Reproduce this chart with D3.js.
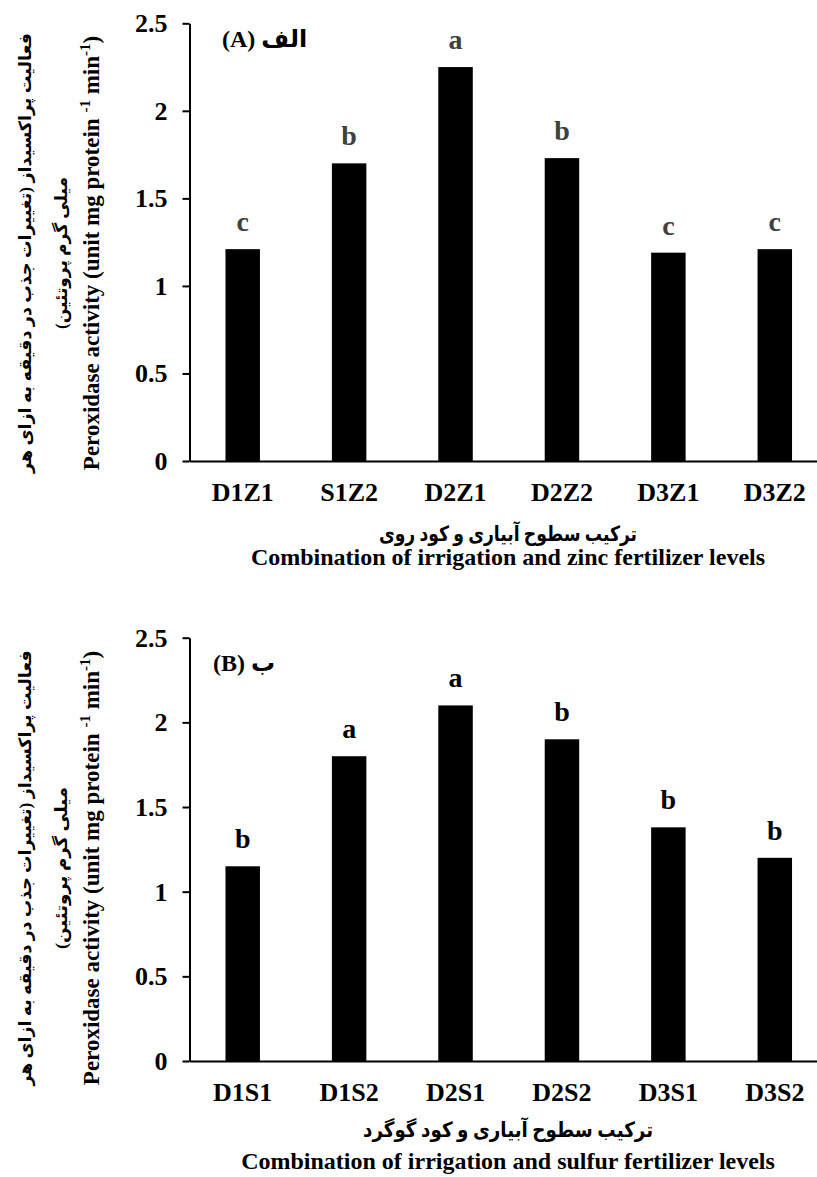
<!DOCTYPE html>
<html>
<head>
<meta charset="utf-8">
<script src="https://cdn.jsdelivr.net/npm/d3@7/dist/d3.min.js"></script>
<style>
  html, body { margin: 0; padding: 0; background: #ffffff; }
  svg { display: block; }
  text { font-family: "Liberation Serif", "DejaVu Sans", serif; font-weight: bold; }
</style>
</head>
<body>
<svg id="chart" width="817" height="1177"></svg>
<script>
// ---------------- data ----------------
const categoriesA = ["D1Z1", "S1Z2", "D2Z1", "D2Z2", "D3Z1", "D3Z2"];
const valuesA     = [1.21, 1.70, 2.25, 1.73, 1.19, 1.21];
const lettersA    = ["c", "b", "a", "b", "c", "c"];

const categoriesB = ["D1S1", "D1S2", "D2S1", "D2S2", "D3S1", "D3S2"];
const valuesB     = [1.15, 1.80, 2.10, 1.90, 1.38, 1.20];
const lettersB    = ["b", "a", "a", "b", "b", "b"];

const yTicks = [0, 0.5, 1, 1.5, 2, 2.5];

const yTitleFa1 = "فعالیت پراکسیداز (تغییرات جذب در دقیقه به ازای هر";
const yTitleFa2 = "میلی گرم پروتئین)";
const xTitleFaA = "ترکیب سطوح آبیاری و کود روی";
const xTitleFaB = "ترکیب سطوح آبیاری و کود گوگرد";
const xTitleEnA = "Combination of irrigation and zinc fertilizer levels";
const xTitleEnB = "Combination of irrigation and sulfur fertilizer levels";
const panelLabelA = "(A) الف";
const panelLabelB = "(B) ب";

// ---------------- drawing ----------------
const svg = d3.select("#chart");

function drawPanel(cfg) {
  const g = svg.append("g");
  const x = d3.scaleBand()
    .domain(cfg.categories)
    .range([189.5, 828])
    .paddingInner(0.676)
    .paddingOuter(0.338);
  const y = d3.scaleLinear().domain([0, 2.5]).range([cfg.y0, cfg.yTop]);

  // bars
  g.selectAll("rect.bar")
    .data(cfg.values)
    .join("rect")
    .attr("class", "bar")
    .attr("x", (d, i) => x(cfg.categories[i]))
    .attr("width", x.bandwidth())
    .attr("y", d => y(d))
    .attr("height", d => y(0) - y(d))
    .attr("fill", "#000000");

  // significance letters
  g.selectAll("text.letter")
    .data(cfg.values)
    .join("text")
    .attr("class", "letter")
    .attr("x", (d, i) => x(cfg.categories[i]) + x.bandwidth() / 2)
    .attr("y", d => y(d) - 18)
    .attr("text-anchor", "middle")
    .attr("font-size", 28)
    .attr("fill", cfg.letterColor)
    .text((d, i) => cfg.letters[i]);

  // y axis
  const yAxis = d3.axisLeft(y)
    .tickValues(yTicks)
    .tickSize(7)
    .tickSizeOuter(0)
    .tickPadding(15)
    .tickFormat(d => String(d));
  const ya = g.append("g").attr("transform", "translate(189.5,0)").call(yAxis);
  ya.select(".domain").attr("stroke", "#000").attr("stroke-width", 2);
  ya.selectAll(".tick line").attr("stroke", "#000").attr("stroke-width", 2);
  ya.selectAll(".tick text")
    .attr("font-size", 26)
    .attr("font-family", "Liberation Serif")
    .attr("font-weight", "bold")
    .attr("fill", "#000");

  // x axis
  const xAxis = d3.axisBottom(x).tickSize(0).tickSizeOuter(0).tickPadding(22);
  const xa = g.append("g").attr("transform", `translate(0,${cfg.y0})`).call(xAxis);
  xa.select(".domain").attr("stroke", "#000").attr("stroke-width", 2);
  xa.selectAll(".tick text")
    .attr("font-size", 26)
    .attr("font-family", "Liberation Serif")
    .attr("font-weight", "bold")
    .attr("fill", "#000");

  // panel label
  g.append("text")
    .attr("x", cfg.labelX)
    .attr("y", cfg.labelY)
    .attr("font-size", 24)
    .attr("fill", "#000")
    .text(cfg.panelLabel);

  // x titles
  g.append("text")
    .attr("x", 508)
    .attr("y", cfg.xFaY)
    .attr("text-anchor", "middle")
    .attr("font-size", 21)
    .attr("textLength", cfg.xFaLen)
    .attr("lengthAdjust", "spacingAndGlyphs")
    .style("direction", "rtl")
    .attr("fill", "#000")
    .text(cfg.xTitleFa);
  g.append("text")
    .attr("x", 508)
    .attr("y", cfg.xEnY)
    .attr("text-anchor", "middle")
    .attr("font-size", 24)
    .attr("fill", "#000")
    .text(cfg.xTitleEn);

  // y titles (rotated)
  g.append("text")
    .attr("transform", `translate(31,${cfg.yTitleC}) rotate(-90)`)
    .attr("text-anchor", "middle")
    .attr("font-size", 17)
    .attr("textLength", cfg.fa1Len)
    .attr("lengthAdjust", "spacingAndGlyphs")
    .style("direction", "rtl")
    .attr("fill", "#000")
    .text(yTitleFa1);
  g.append("text")
    .attr("transform", `translate(67,${cfg.yTitleC}) rotate(-90)`)
    .attr("text-anchor", "middle")
    .attr("font-size", 17)
    .attr("textLength", cfg.fa2Len)
    .attr("lengthAdjust", "spacingAndGlyphs")
    .style("direction", "rtl")
    .attr("fill", "#000")
    .text(yTitleFa2);
  const en = g.append("text")
    .attr("transform", `translate(99,${cfg.yTitleC}) rotate(-90)`)
    .attr("text-anchor", "middle")
    .attr("font-size", 23)
    .attr("fill", "#000");
  en.append("tspan").text("Peroxidase activity (unit mg protein ");
  en.append("tspan").attr("font-size", 15).attr("dy", -9).text("-1");
  en.append("tspan").attr("dy", 9).text(" min");
  en.append("tspan").attr("font-size", 15).attr("dy", -9).text("-1");
  en.append("tspan").attr("dy", 9).text(")");
}

drawPanel({
  categories: categoriesA, values: valuesA, letters: lettersA,
  letterColor: "#404040",
  y0: 461, yTop: 23.3,
  panelLabel: panelLabelA, labelX: 222, labelY: 47,
  xTitleFa: xTitleFaA, xFaY: 541, xFaLen: 258,
  xTitleEn: xTitleEnA, xEnY: 565,
  yTitleC: 253, fa1Len: 440, fa2Len: 152
});

drawPanel({
  categories: categoriesB, values: valuesB, letters: lettersB,
  letterColor: "#000000",
  y0: 1061, yTop: 637.7,
  panelLabel: panelLabelB, labelX: 213, labelY: 671,
  xTitleFa: xTitleFaB, xFaY: 1137, xFaLen: 290,
  xTitleEn: xTitleEnB, xEnY: 1169,
  yTitleC: 868, fa1Len: 435, fa2Len: 162
});
</script>
</body>
</html>
